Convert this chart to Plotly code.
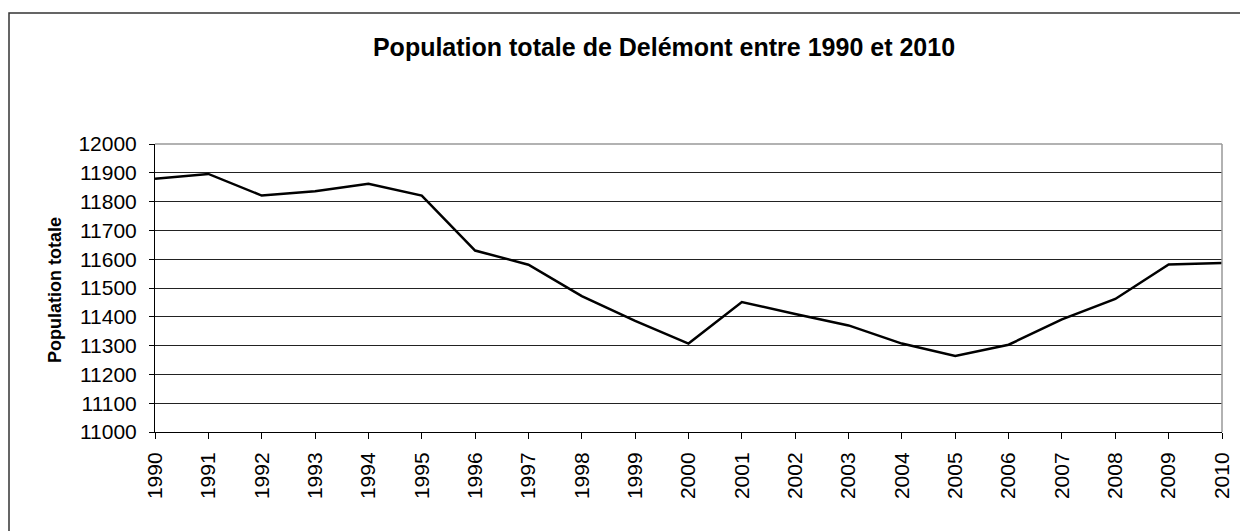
import plotly.graph_objects as go

years = list(range(1990, 2011))
population = [11879, 11896, 11821, 11836, 11862, 11821, 11630, 11581, 11472, 11386,
              11307, 11451, 11410, 11370, 11307, 11264, 11303, 11391, 11462, 11582, 11587]
y_ticks = list(range(11000, 12001, 100))

title_text = "Population totale de Delémont entre 1990 et 2010"
y_title = "Population totale"

# the page body adds an 8px offset; the figure is sized to fill the rest of the window
OFF = 8
W, H = 1248 - OFF, 531 - OFF
L, R, T, B = 155 - OFF, 26, 144 - OFF, 99
pw, ph = W - L - R, H - T - B

def px_x(px):
    return (px - OFF - L) / pw

def px_y(py):
    return (H - B - (py - OFF)) / ph

fig = go.Figure()
fig.add_trace(go.Scatter(x=years, y=population, mode="lines",
                         line=dict(color="black", width=2.5), showlegend=False,
                         hoverinfo="x+y"))

font = "Liberation Sans, Arial, sans-serif"
fig.update_layout(
    width=W, height=H,
    margin=dict(l=L, r=R, t=T, b=B),
    paper_bgcolor="white", plot_bgcolor="white",
    font=dict(family=font, color="black"),
    title=dict(text="<b>" + title_text + "</b>", x=(664 - OFF) / W, xanchor="center",
               y=1 - (47 - OFF) / H, yanchor="middle",
               font=dict(size=25, family=font, color="black")),
    xaxis=dict(range=[1990, 2010], tickmode="array", tickvals=years,
               ticktext=[str(y) for y in years], tickangle=-90,
               ticks="outside", ticklen=6, tickcolor="black", tickwidth=1,
               showline=True, linecolor="black", linewidth=1,
               showgrid=False, zeroline=False, ticklabelstandoff=5,
               tickfont=dict(size=21, family=font, color="black")),
    yaxis=dict(range=[11000, 12000], tickmode="array", tickvals=y_ticks,
               ticktext=[str(v) for v in y_ticks],
               ticks="outside", ticklen=5, tickcolor="black", tickwidth=1,
               showline=True, linecolor="black", linewidth=1,
               showgrid=True, gridcolor="#222222", gridwidth=1,
               zeroline=False, ticklabelstandoff=8,
               tickfont=dict(size=21, family=font, color="black")),
    annotations=[dict(text="<b>" + y_title + "</b>", xref="paper", yref="paper",
                      x=px_x(55), y=px_y(290), xanchor="center", yanchor="middle",
                      textangle=-90, showarrow=False,
                      font=dict(size=18, family=font, color="black"))],
    shapes=[
        dict(type="line", xref="paper", yref="paper", x0=0, x1=1, y0=1, y1=1,
             line=dict(color="#999999", width=1.5)),
        dict(type="line", xref="paper", yref="paper", x0=1, x1=1, y0=0, y1=1,
             line=dict(color="#999999", width=1.5)),
        dict(type="rect", xref="paper", yref="paper",
             x0=px_x(9), x1=px_x(1290), y0=px_y(580), y1=px_y(13),
             line=dict(color="#333333", width=1.5), fillcolor="rgba(0,0,0,0)", layer="below"),
    ],
)

fig.write_html("out.html")
